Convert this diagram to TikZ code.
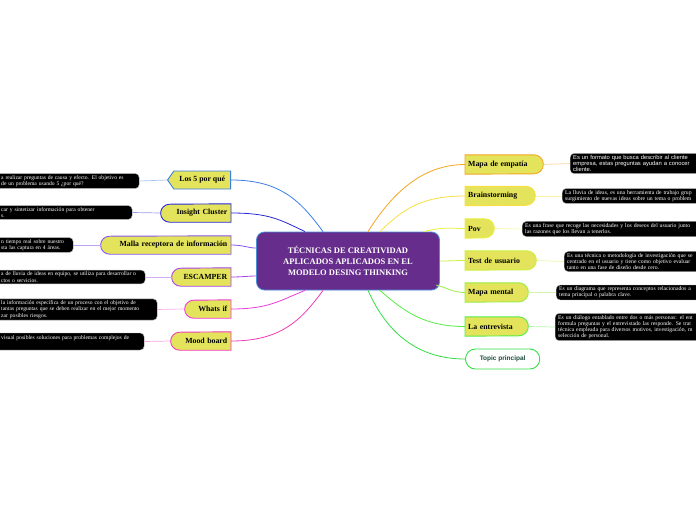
\documentclass[tikz,border=0pt]{standalone}
\usepackage{fontspec}
\setmainfont{Liberation Serif}
\newfontfamily\sansf{Liberation Sans}
\usetikzlibrary{shapes.misc,shapes.symbols,calc}
\pgfdeclarelayer{bg}
\pgfsetlayers{bg,main}
\definecolor{bfill}{HTML}{E3E35C}
\definecolor{cfill}{HTML}{662D8C}
\definecolor{cbord}{HTML}{4A90D9}
\definecolor{cA}{HTML}{3A7FE8}
\definecolor{cB}{HTML}{2828D8}
\definecolor{cC}{HTML}{8855EE}
\definecolor{cD}{HTML}{A844E8}
\definecolor{cE}{HTML}{EC3CD8}
\definecolor{cF}{HTML}{F03CB4}
\definecolor{rA}{HTML}{F5A623}
\definecolor{rB}{HTML}{F8E040}
\definecolor{rC}{HTML}{EAF040}
\definecolor{rD}{HTML}{CCF040}
\definecolor{rE}{HTML}{99EE44}
\definecolor{rF}{HTML}{55EE44}
\definecolor{rG}{HTML}{33DD44}
\definecolor{topictxt}{HTML}{1B4D3E}
\newcommand\rshape[2]{\draw[#2, fill=bfill, line width=0.9pt] (#1.north west) -- ($(#1.north east)+(-9.5pt,0pt)$) arc[start angle=90,end angle=-90,radius=9.5pt] -- (#1.south west) -- cycle;}
\newcommand\lshape[2]{\draw[#2, fill=bfill, line width=0.9pt] (#1.north east) -- (#1.south east) -- ($(#1.south west)+(9pt,0pt)$) arc[start angle=270,end angle=90,radius=9pt] -- cycle;}
\tikzset{
  center/.style={rectangle, rounded corners=8pt, fill=cfill, draw=cbord, line width=0.8pt,
    text=white, font=\bfseries\fontsize{8.5}{11}\selectfont, align=center,
    minimum width=183pt, minimum height=58pt},
  brl/.style={rectangle, font=\bfseries\fontsize{7.8}{9}\selectfont, minimum height=18pt,
    inner xsep=3.5pt, inner ysep=0pt, align=right, text width=#1-7pt, anchor=east},
  brr/.style={rectangle, font=\bfseries\fontsize{7.8}{9}\selectfont, minimum height=19pt,
    inner xsep=3pt, inner ysep=0pt, align=left, text width=#1-6pt, anchor=west},
  ltxt/.style={fill=black, text=white, rounded corners=4pt, draw=gray!60, line width=0.4pt,
    font=\fontsize{5.6}{6.2}\selectfont, align=left, inner xsep=6pt, inner ysep=1.8pt, anchor=west},
  rtxt/.style={fill=black, text=white, rounded corners=4pt, draw=gray!60, line width=0.4pt,
    font=\fontsize{5.7}{6.2}\selectfont, align=left, inner xsep=3pt, inner ysep=1.8pt, anchor=west,
    text width=230pt},
  conn/.style={line width=0.8pt},
  lnk/.style={line width=0.7pt},
}
\begin{document}
\begin{tikzpicture}[x=1pt,y=-1pt]
\useasboundingbox (0,0) rectangle (696,520);
\begin{pgfonlayer}{bg}
\fill[white] (0,0) rectangle (696,520);
\end{pgfonlayer}

\node[center] (c) at (348,261) {TÉCNICAS DE CREATIVIDAD\\APLICADOS APLICADOS EN EL\\MODELO DESING THINKING};

% left branches
\node[signal, signal to=west, signal from=nowhere, signal pointer angle=110, fill=bfill, draw=cA,
  line width=0.9pt, font=\bfseries\fontsize{7.8}{9}\selectfont, minimum height=18pt,
  minimum width=63pt, inner xsep=3pt, anchor=east] (b1) at (231,180) {Los 5 por qué};
\node[brl=70pt] (b2) at (231,213) {Insight Cluster};
\node[brl=130pt] (b3) at (231,245) {Malla receptora de información};
\node[brl=59pt] (b4) at (231,277) {ESCAMPER};
\node[brl=46pt] (b5) at (231,309) {Whats if};
\node[brl=60pt] (b6) at (231,341) {Mood board};

% right branches
\node[brr=78pt] (r1) at (465,164.5) {Mapa de empatía};
\node[brr=70pt] (r2) at (465,196) {Brainstorming};
\node[brr=29pt] (r3) at (465,228.5) {Pov};
\node[brr=71pt] (r4) at (465,260.5) {Test de usuario};
\node[brr=63pt] (r5) at (465,292.5) {Mapa mental};
\node[brr=63pt] (r6) at (465,326.5) {La entrevista};
\node[rounded rectangle, fill=white, draw=rG, line width=0.9pt, text=topictxt,
  font=\sansf\bfseries\fontsize{6.5}{8}\selectfont, minimum height=20pt, minimum width=81pt,
  anchor=west] (r7) at (465,359) {Topic principal};

\begin{pgfonlayer}{bg}
\lshape{b2}{cB}
\lshape{b3}{cC}
\lshape{b4}{cD}
\lshape{b5}{cE}
\lshape{b6}{cF}
\rshape{r1}{rA}
\rshape{r2}{rB}
\rshape{r3}{rC}
\rshape{r4}{rD}
\rshape{r5}{rE}
\rshape{r6}{rF}
\end{pgfonlayer}

% left text boxes
\node[ltxt, text width=132pt] (t1) at (-5,181) {a realizar preguntas de causa y efecto. El objetivo es\\de un problema usando 5 ¿por qué?};
\node[ltxt, text width=125pt] (t2) at (-5,212.5) {car y sintetizar información para obtener\\s.};
\node[ltxt, text width=66pt] (t3) at (-5,245) {n tiempo real sobre nuestro\\sta las captura en 4 áreas.};
\node[ltxt, text width=138pt] (t4) at (-5,277) {a de lluvia de ideas en equipo, se utiliza para desarrollar o\\ctos o servicios.};
\node[ltxt, text width=150pt] (t5) at (-5,309.5) {la información específica de un proceso con el objetivo de\\tantas preguntas que se deben realizar en el mejor momento\\zar posibles riesgos.};
\node[ltxt, text width=137pt, minimum height=17pt, text depth=7.5pt] (t6) at (-5,341.5) {visual posibles soluciones para problemas complejos de};

% right text boxes
\node[rtxt, font=\sansf\fontsize{5.8}{6.2}\selectfont] (u1) at (570,163.5) {Es un formato que busca describir al cliente\\empresa, estas preguntas ayudan a conocer\\cliente.};
\node[rtxt] (u2) at (562,196) {La lluvia de ideas, es una herramienta de trabajo grup\\surgimiento de nuevas ideas sobre un tema o problem};
\node[rtxt] (u3) at (522,229) {Es una frase que recoge las necesidades y los deseos del usuario junto\\las razones que los llevan a tenerlos.};
\node[rtxt] (u4) at (564,261.5) {Es una técnica o metodología de investigación que se\\centrado en el usuario y tiene como objetivo evaluar\\tanto en una fase de diseño desde cero.};
\node[rtxt] (u5) at (556,292.5) {Es un diagrama que representa conceptos relacionados a\\tema principal o palabra clave.};
\node[rtxt] (u6) at (555,327) {Es un diálogo entablado entre dos o más personas: el ent\\formula preguntas y el entrevistado las responde. Se trat\\técnica empleada para diversos motivos, investigación, m\\selección de personal.};

% main connectors (left)
\draw[conn, cA] (b1.east) .. controls +(50,0) and +(-22,-30) .. ($(c.north)+(-25,0)$);
\draw[conn, cB] (b2.east) .. controls +(38,0) and +(-25,-12) .. ($(c.north)+(-43,0)$);
\draw[conn, cC] (b3.east) .. controls +(12,0) and +(-8,0) .. ($(c.west)+(0,-13)$);
\draw[conn, cD] (b4.east) .. controls +(12,0) and +(-8,0) .. ($(c.west)+(0,15)$);
\draw[conn, cE] (b5.east) .. controls +(38,0) and +(-25,10) .. ($(c.south)+(-43,0)$);
\draw[conn, cF] (b6.east) .. controls +(50,0) and +(-22,30) .. ($(c.south)+(-25,0)$);

% main connectors (right)
\draw[conn, rA] ($(c.north)+(20,0)$) .. controls +(22,-35) and +(-45,0) .. (r1.west);
\draw[conn, rB] ($(c.north)+(32,0)$) .. controls +(25,-25) and +(-40,0) .. (r2.west);
\draw[conn, rC] ($(c.north east)+(-16,0)$) .. controls +(20,-5) and +(-15,0) .. (r3.west);
\draw[conn, rD] (c.east) .. controls +(10,0) and +(-10,0) .. (r4.west);
\draw[conn, rE] ($(c.east)+(-4,24)$) .. controls +(12,3) and +(-12,0) .. (r5.west);
\draw[conn, rF] ($(c.south)+(32,0)$) .. controls +(25,22) and +(-40,0) .. (r6.west);
\draw[conn, rG] ($(c.south)+(20,0)$) .. controls +(20,45) and +(-45,0) .. (r7.west);

% links to text boxes
\draw[lnk, cA!45] (t1.east) -- (b1.west);
\draw[lnk, cB!45] (t2.east) -- (b2.west);
\draw[lnk, cC!55] (t3.east) -- (b3.west);
\draw[lnk, cD!45] (t4.east) -- (b4.west);
\draw[lnk, cE!40] (t5.east) -- (b5.west);
\draw[lnk, cF!45] (t6.east) -- (b6.west);
\draw[lnk, rA!45] (r1.east) -- (u1.west);
\draw[lnk, rB!45] (r2.east) -- (u2.west);
\draw[lnk, rC!45] (r3.east) -- (u3.west);
\draw[lnk, rD!45] (r4.east) -- (u4.west);
\draw[lnk, rE!45] (r5.east) -- (u5.west);
\draw[lnk, rF!45] (r6.east) -- (u6.west);
\end{tikzpicture}
\end{document}
